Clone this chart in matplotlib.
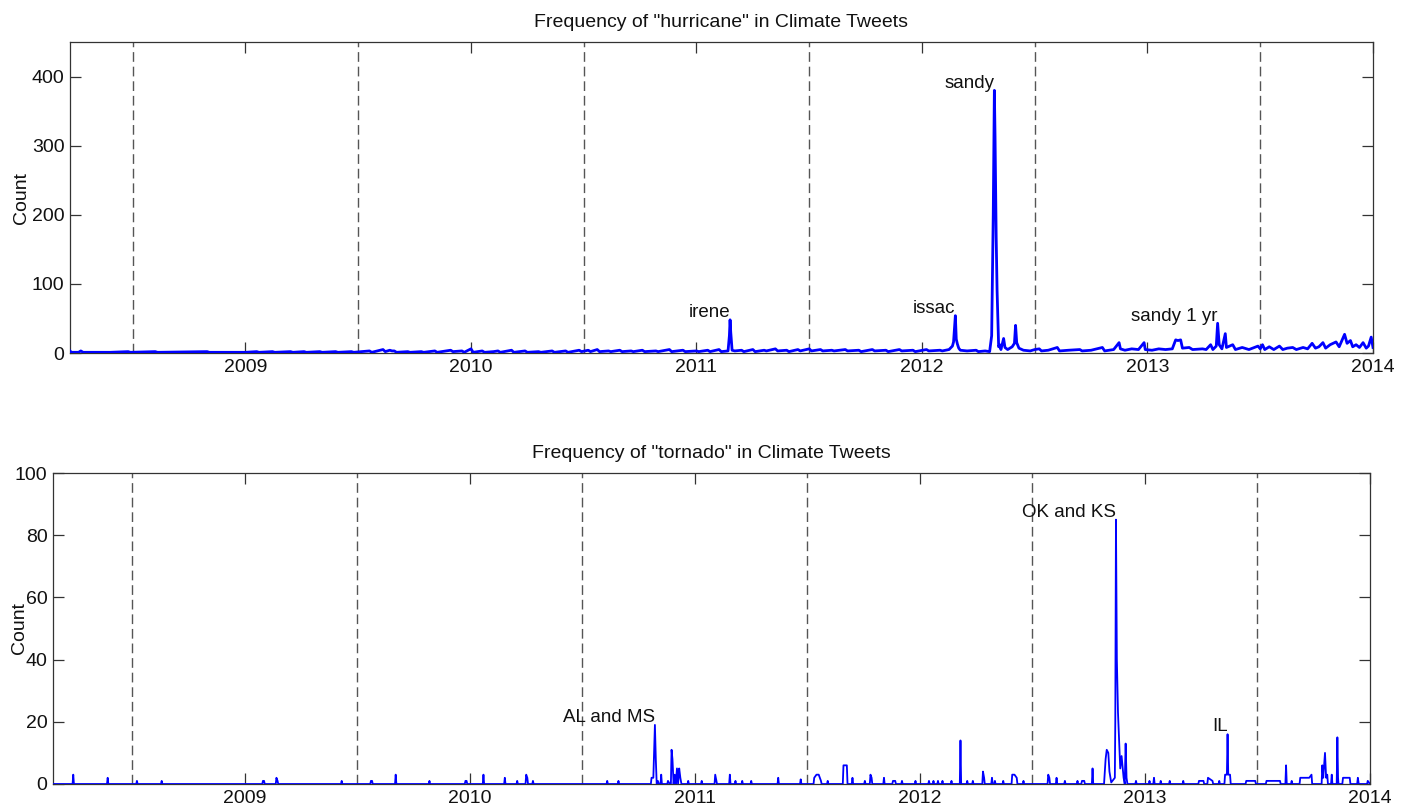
import matplotlib
matplotlib.use("Agg")
import matplotlib.pyplot as plt
import numpy as np

plt.rcParams['font.family'] = ['Liberation Sans', 'DejaVu Sans']

# ---------------- data (decimal year, count) ----------------
hurricane_points = [
    (2008.222, 3), (2008.228, 1), (2008.26, 1), (2008.27, 3), (2008.28, 1), (2008.40, 1),
    (2008.48, 2), (2008.49, 1), (2008.60, 2), (2008.61, 1), (2008.83, 2), (2008.84, 1),
    (2009.00, 1), (2009.05, 2), (2009.06, 1), (2009.12, 2), (2009.13, 1), (2009.20, 2),
    (2009.21, 1), (2009.26, 2), (2009.27, 1), (2009.33, 2), (2009.34, 1), (2009.40, 2),
    (2009.41, 1), (2009.47, 2), (2009.48, 1), (2009.55, 3), (2009.56, 1), (2009.61, 5),
    (2009.62, 2), (2009.64, 4), (2009.65, 3), (2009.66, 3), (2009.67, 1), (2009.72, 2),
    (2009.73, 1), (2009.78, 2), (2009.79, 1), (2009.84, 3), (2009.85, 1), (2009.91, 4),
    (2009.92, 2), (2009.96, 3), (2009.97, 1), (2010.00, 6), (2010.01, 1), (2010.05, 3),
    (2010.06, 1), (2010.10, 2), (2010.12, 3), (2010.13, 1), (2010.18, 4), (2010.19, 1),
    (2010.24, 3), (2010.25, 1), (2010.30, 2), (2010.31, 1), (2010.36, 3), (2010.37, 1),
    (2010.42, 3), (2010.43, 1), (2010.48, 4), (2010.49, 2), (2010.52, 4), (2010.53, 2),
    (2010.56, 5), (2010.57, 2), (2010.61, 3), (2010.62, 2), (2010.66, 4), (2010.67, 2),
    (2010.71, 3), (2010.72, 2), (2010.76, 4), (2010.77, 2), (2010.82, 3), (2010.83, 2),
    (2010.88, 5), (2010.89, 2), (2010.94, 4), (2010.95, 2), (2011.00, 3), (2011.01, 2),
    (2011.05, 4), (2011.06, 2), (2011.10, 5), (2011.11, 2), (2011.14, 3), (2011.146, 25),
    (2011.149, 48), (2011.152, 30), (2011.158, 4), (2011.17, 3), (2011.20, 4), (2011.21, 2),
    (2011.25, 5), (2011.26, 2), (2011.30, 4), (2011.31, 3), (2011.35, 6), (2011.36, 3),
    (2011.40, 4), (2011.41, 2), (2011.45, 5), (2011.46, 3), (2011.50, 6), (2011.51, 3),
    (2011.55, 5), (2011.56, 3), (2011.60, 4), (2011.61, 3), (2011.66, 5), (2011.67, 3),
    (2011.72, 4), (2011.73, 2), (2011.78, 5), (2011.79, 3), (2011.84, 4), (2011.85, 2),
    (2011.90, 5), (2011.91, 3), (2011.96, 4), (2011.97, 2), (2012.02, 5), (2012.03, 3),
    (2012.08, 4), (2012.09, 3), (2012.12, 5), (2012.135, 10), (2012.14, 16), (2012.148, 54),
    (2012.152, 20), (2012.157, 13), (2012.163, 7), (2012.17, 4), (2012.20, 3), (2012.24, 4),
    (2012.25, 2), (2012.28, 3), (2012.30, 2), (2012.309, 25), (2012.316, 200), (2012.321, 380),
    (2012.324, 313), (2012.329, 168), (2012.333, 91), (2012.34, 9), (2012.345, 12), (2012.35, 5),
    (2012.362, 21), (2012.368, 8), (2012.38, 5), (2012.40, 9), (2012.41, 14), (2012.415, 40),
    (2012.42, 15), (2012.43, 7), (2012.45, 4), (2012.48, 3), (2012.50, 5), (2012.52, 6),
    (2012.53, 3), (2012.56, 4), (2012.60, 8), (2012.61, 3), (2012.65, 4), (2012.70, 5),
    (2012.71, 3), (2012.75, 4), (2012.80, 8), (2012.81, 3), (2012.85, 5), (2012.874, 15),
    (2012.88, 6), (2012.90, 4), (2012.93, 6), (2012.96, 5), (2012.985, 15), (2012.99, 5),
    (2013.02, 4), (2013.05, 6), (2013.08, 5), (2013.11, 6), (2013.125, 19), (2013.135, 18),
    (2013.147, 19), (2013.155, 7), (2013.185, 8), (2013.20, 5), (2013.244, 6), (2013.26, 5),
    (2013.28, 12), (2013.29, 5), (2013.305, 10), (2013.311, 43), (2013.318, 12), (2013.33, 6),
    (2013.345, 28), (2013.35, 8), (2013.378, 12), (2013.39, 5), (2013.42, 8), (2013.45, 5),
    (2013.49, 10), (2013.50, 6), (2013.51, 12), (2013.52, 5), (2013.54, 9), (2013.56, 5),
    (2013.585, 10), (2013.60, 5), (2013.62, 7), (2013.644, 8), (2013.66, 5), (2013.69, 8),
    (2013.71, 6), (2013.73, 14), (2013.745, 7), (2013.76, 9), (2013.778, 15), (2013.79, 7),
    (2013.81, 12), (2013.836, 16), (2013.85, 9), (2013.874, 27), (2013.885, 14), (2013.90, 18),
    (2013.91, 9), (2013.925, 12), (2013.94, 8), (2013.956, 15), (2013.97, 7), (2013.98, 10),
    (2013.992, 23), (2014.0, 8),
]

tornado_points = [
    (2008.147, 0), (2008.234, 0), (2008.237, 3), (2008.240, 0), (2008.387, 0), (2008.39, 2),
    (2008.393, 0), (2008.517, 0), (2008.52, 1), (2008.523, 0), (2008.627, 0), (2008.63, 1),
    (2008.633, 0), (2009.077, 0), (2009.08, 1), (2009.085, 1), (2009.088, 0), (2009.137, 0),
    (2009.14, 2), (2009.145, 1), (2009.148, 0), (2009.427, 0), (2009.43, 1), (2009.433, 0),
    (2009.557, 0), (2009.56, 1), (2009.565, 1), (2009.568, 0), (2009.667, 0), (2009.67, 3),
    (2009.673, 0), (2009.817, 0), (2009.82, 1), (2009.823, 0), (2009.977, 0), (2009.98, 1),
    (2009.985, 1), (2009.988, 0), (2010.057, 0), (2010.06, 3), (2010.063, 0), (2010.152, 0),
    (2010.155, 2), (2010.158, 0), (2010.207, 0), (2010.21, 1), (2010.213, 0), (2010.247, 0),
    (2010.25, 3), (2010.255, 2), (2010.258, 0), (2010.277, 0), (2010.28, 1), (2010.283, 0),
    (2010.607, 0), (2010.61, 1), (2010.613, 0), (2010.657, 0), (2010.66, 1), (2010.663, 0),
    (2010.804, 0), (2010.807, 2), (2010.815, 2), (2010.822, 19), (2010.826, 8), (2010.830, 0),
    (2010.835, 1), (2010.840, 0), (2010.847, 0), (2010.85, 3), (2010.853, 0), (2010.877, 0),
    (2010.88, 1), (2010.888, 0), (2010.893, 0), (2010.896, 11), (2010.90, 8), (2010.905, 0),
    (2010.91, 3), (2010.915, 0), (2010.92, 5), (2010.925, 0), (2010.93, 5), (2010.935, 2),
    (2010.94, 0), (2010.967, 0), (2010.97, 1), (2010.973, 0), (2011.027, 0), (2011.03, 1),
    (2011.033, 0), (2011.087, 0), (2011.09, 3), (2011.095, 1), (2011.098, 0), (2011.152, 0),
    (2011.155, 3), (2011.158, 0), (2011.177, 0), (2011.18, 1), (2011.183, 0), (2011.207, 0),
    (2011.21, 1), (2011.213, 0), (2011.247, 0), (2011.25, 1), (2011.253, 0), (2011.367, 0),
    (2011.37, 2), (2011.373, 0), (2011.467, 0), (2011.47, 1.5), (2011.473, 0), (2011.527, 0),
    (2011.53, 2), (2011.54, 3), (2011.55, 3), (2011.56, 1), (2011.563, 0), (2011.587, 0),
    (2011.59, 1), (2011.593, 0), (2011.657, 0), (2011.66, 6), (2011.67, 6), (2011.675, 6),
    (2011.678, 0), (2011.697, 0), (2011.70, 2), (2011.703, 0), (2011.752, 0), (2011.755, 1),
    (2011.758, 0), (2011.777, 0), (2011.78, 3), (2011.785, 2), (2011.788, 0), (2011.837, 0),
    (2011.84, 2), (2011.843, 0), (2011.877, 0), (2011.88, 1), (2011.89, 1), (2011.893, 0),
    (2011.917, 0), (2011.92, 1), (2011.923, 0), (2011.977, 0), (2011.98, 1), (2011.983, 0),
    (2012.037, 0), (2012.04, 1), (2012.043, 0), (2012.057, 0), (2012.06, 1), (2012.063, 0),
    (2012.077, 0), (2012.08, 1), (2012.083, 0), (2012.097, 0), (2012.10, 1), (2012.103, 0),
    (2012.137, 0), (2012.14, 1), (2012.143, 0), (2012.177, 0), (2012.18, 14), (2012.183, 0),
    (2012.207, 0), (2012.21, 1), (2012.213, 0), (2012.232, 0), (2012.235, 1), (2012.238, 0),
    (2012.277, 0), (2012.28, 4), (2012.285, 2), (2012.288, 0), (2012.317, 0), (2012.32, 2),
    (2012.323, 0), (2012.330, 0), (2012.333, 1), (2012.336, 0), (2012.367, 0), (2012.37, 1),
    (2012.373, 0), (2012.407, 0), (2012.41, 3), (2012.42, 3), (2012.43, 2), (2012.433, 0),
    (2012.457, 0), (2012.46, 1), (2012.463, 0), (2012.567, 0), (2012.57, 3), (2012.575, 2),
    (2012.578, 0), (2012.604, 0), (2012.607, 2), (2012.61, 0), (2012.641, 0), (2012.644, 1),
    (2012.647, 0), (2012.697, 0), (2012.70, 1), (2012.703, 0), (2012.717, 0), (2012.72, 1),
    (2012.73, 1), (2012.733, 0), (2012.764, 0), (2012.767, 5), (2012.77, 0), (2012.818, 0),
    (2012.825, 8), (2012.83, 11), (2012.837, 10), (2012.842, 4), (2012.85, 0.5), (2012.866, 2),
    (2012.868, 20), (2012.871, 85), (2012.875, 40), (2012.88, 23), (2012.89, 5), (2012.896, 9),
    (2012.905, 2), (2012.91, 0), (2012.914, 13), (2012.918, 2), (2012.922, 0), (2012.957, 0),
    (2012.96, 1), (2012.963, 0), (2013.017, 0), (2013.02, 1), (2013.023, 0), (2013.037, 0),
    (2013.04, 2), (2013.043, 0), (2013.067, 0), (2013.07, 1), (2013.073, 0), (2013.107, 0),
    (2013.11, 1), (2013.113, 0), (2013.167, 0), (2013.17, 1), (2013.173, 0), (2013.237, 0),
    (2013.24, 1), (2013.26, 1), (2013.263, 0), (2013.277, 0), (2013.28, 2), (2013.30, 1),
    (2013.303, 0), (2013.327, 0), (2013.33, 1), (2013.333, 0), (2013.353, 0), (2013.356, 3),
    (2013.364, 3), (2013.367, 16), (2013.370, 3), (2013.378, 3), (2013.381, 0), (2013.447, 0),
    (2013.45, 1), (2013.47, 1), (2013.49, 1), (2013.493, 0), (2013.537, 0), (2013.54, 1),
    (2013.56, 1), (2013.58, 1), (2013.60, 1), (2013.603, 0), (2013.624, 0), (2013.627, 6),
    (2013.63, 0), (2013.649, 0), (2013.652, 1), (2013.655, 0), (2013.687, 0), (2013.69, 2),
    (2013.71, 2), (2013.73, 2), (2013.74, 3), (2013.743, 0), (2013.785, 0), (2013.788, 6),
    (2013.792, 2), (2013.80, 10), (2013.805, 2), (2013.81, 3), (2013.813, 0), (2013.827, 0),
    (2013.83, 3), (2013.833, 0), (2013.852, 0), (2013.855, 15), (2013.858, 2), (2013.86, 0),
    (2013.877, 0), (2013.88, 2), (2013.90, 2), (2013.91, 2), (2013.913, 0), (2013.943, 0),
    (2013.946, 2), (2013.95, 0), (2013.987, 0), (2013.99, 1), (2014.0, 0),
]

hurricane_labels = [("irene", 2011.149, 48), ("issac", 2012.148, 54),
                    ("sandy", 2012.321, 380), ("sandy 1 yr", 2013.311, 43)]
tornado_labels = [("AL and MS", 2010.822, 19), ("OK and KS", 2012.871, 85),
                  ("IL", 2013.367, 16)]

year_ticks = [2009, 2010, 2011, 2012, 2013, 2014]
mid_years = [2008.5, 2009.5, 2010.5, 2011.5, 2012.5, 2013.5]

# ---------------- figure ----------------
fig = plt.figure(figsize=(14.01, 8.09), dpi=100)
ax1 = fig.add_axes([70 / 1401, 1 - 353 / 809, 1303 / 1401, 311 / 809])
ax2 = fig.add_axes([53 / 1401, 1 - 784 / 809, 1317 / 1401, 311 / 809])

spine_col = '#333333'
txt_col = '#111111'
FS = 14
LFS = 13.5


def style(ax, xlim, ylim, yticks, title, label_x):
    ax.set_xlim(*xlim)
    ax.set_ylim(*ylim)
    ax.set_xticks(year_ticks)
    ax.set_xticklabels([str(y) for y in year_ticks])
    ax.set_yticks(yticks)
    ax.tick_params(direction='in', length=8, width=0.9, colors=spine_col,
                   labelcolor=txt_col, labelsize=FS, top=True, right=True, pad=4)
    for s in ax.spines.values():
        s.set_color(spine_col)
        s.set_linewidth(0.9)
    for m in mid_years:
        ax.axvline(m, color='#555555', lw=1.0, ls=(0, (7, 3.5)), zorder=1)
    ax.set_title(title, fontsize=FS, pad=11, color=txt_col)
    ax.set_ylabel('Count', fontsize=FS, color=txt_col)
    ax.yaxis.set_label_coords(label_x, 0.5)


h_t = [p[0] for p in hurricane_points]
h_n = [p[1] for p in hurricane_points]
t_t = [p[0] for p in tornado_points]
t_n = [p[1] for p in tornado_points]

style(ax1, (2008.222, 2014.0), (0, 450), [0, 100, 200, 300, 400],
      'Frequency of "hurricane" in Climate Tweets', -0.031)
ax1.plot(h_t, h_n, color='#0000ff', lw=2.0, zorder=3, solid_joinstyle='round')
for lab, x, y in hurricane_labels:
    ax1.annotate(lab, xy=(x, y), xytext=(0, 2), textcoords='offset points',
                 ha='right', va='baseline', fontsize=LFS, color=txt_col)

style(ax2, (2008.147, 2014.0), (0, 100), [0, 20, 40, 60, 80, 100],
      'Frequency of "tornado" in Climate Tweets', -0.019)
ax2.plot(t_t, t_n, color='#0000ff', lw=1.3, zorder=3)
for lab, x, y in tornado_labels:
    ax2.annotate(lab, xy=(x, y), xytext=(0, 2), textcoords='offset points',
                 ha='right', va='baseline', fontsize=LFS, color=txt_col)

fig.savefig('out.png', dpi=100)
